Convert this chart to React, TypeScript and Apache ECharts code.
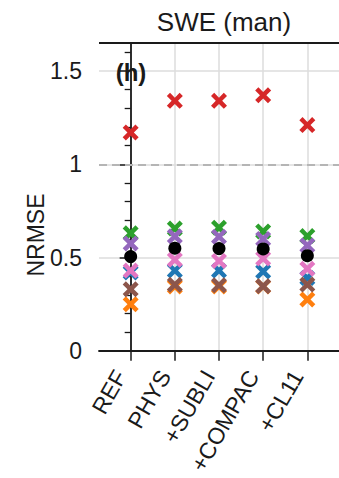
import React, { useEffect, useRef } from "react";
import * as echarts from "echarts";

const categories = ["REF", "PHYS", "+SUBLI", "+COMPAC", "+CL11"];
const xPositions = [0, 1, 2, 3, 4];
const yTicks = [0, 0.5, 1, 1.5];

const blueVals = [0.42, 0.43, 0.43, 0.425, 0.39];
const orangeVals = [0.25, 0.345, 0.345, 0.345, 0.275];
const greenVals = [0.63, 0.656, 0.66, 0.64, 0.615];
const redVals = [1.17, 1.34, 1.34, 1.37, 1.21];
const purpleVals = [0.575, 0.614, 0.612, 0.6, 0.565];
const brownVals = [0.33, 0.354, 0.352, 0.346, 0.355];
const pinkVals = [0.43, 0.488, 0.482, 0.495, 0.44];
const meanVals = [0.505, 0.55, 0.548, 0.546, 0.51];

const refLine = 1;

const X_PATH =
  "path://M0,2L2,0L5,3L8,0L10,2L7,5L10,8L8,10L5,7L2,10L0,8L3,5Z";

const FONT = "Liberation Sans, Arial, Helvetica, sans-serif";

export default function App() {
  const ref = useRef<HTMLDivElement>(null);

  useEffect(() => {
    if (!ref.current) return;
    const chart = echarts.init(ref.current, null, { renderer: "svg" });

    const crossSeries = (name: string, vals: number[], color: string) => ({
      name,
      type: "scatter",
      symbol: X_PATH,
      symbolSize: 16,
      itemStyle: { color, opacity: 1 },
      data: vals.map((v, i) => [xPositions[i], v]),
      z: 3,
      silent: true,
    });

    chart.setOption({
      animation: false,
      backgroundColor: "#ffffff",
      grid: { left: 99, top: 43, width: 251, height: 311, containLabel: false, show: false },
      xAxis: {
        type: "value",
        min: -0.717,
        max: 4.717,
        axisLine: { show: true, lineStyle: { color: "#1a1a1a", width: 1.8 } },
        axisTick: {
          show: true,
          customValues: xPositions,
          length: 10,
          lineStyle: { color: "#1a1a1a", width: 1.5 },
        },
        axisLabel: {
          show: true,
          customValues: xPositions,
          rotate: 60,
          margin: 27,
          align: "right",
          verticalAlign: "bottom",
          fontSize: 23,
          fontFamily: FONT,
          color: "#1a1a1a",
          formatter: (v: number) => categories[Math.round(v)] ?? "",
        },
        splitLine: { show: true, lineStyle: { color: "#dcdcdc", width: 1.5 } },
      },
      yAxis: {
        type: "value",
        min: 0,
        max: 1.65,
        interval: 0.5,
        axisLine: { show: true, lineStyle: { color: "#1a1a1a", width: 1.8 } },
        axisTick: {
          show: true,
          customValues: yTicks,
          length: 11,
          lineStyle: { color: "#1a1a1a", width: 1.5 },
        },
        minorTick: {
          show: true,
          splitNumber: 5,
          length: 6,
          lineStyle: { color: "#1a1a1a", width: 1.3 },
        },
        axisLabel: {
          show: true,
          customValues: yTicks,
          margin: 17,
          fontSize: 23,
          fontFamily: FONT,
          color: "#1a1a1a",
          formatter: (v: number) => String(v),
        },
        splitLine: { show: true, lineStyle: { color: "#dcdcdc", width: 1.5 } },
      },
      graphic: [
        {
          type: "line",
          shape: { x1: 99, y1: 43, x2: 350, y2: 43 },
          style: { stroke: "#1a1a1a", lineWidth: 1.8 },
          z: 10,
        },
        {
          type: "text",
          x: 224,
          y: 22,
          style: {
            text: "SWE (man)",
            fontSize: 26,
            fontFamily: FONT,
            fill: "#1a1a1a",
            textAlign: "center",
            textVerticalAlign: "middle",
          },
        },
        {
          type: "text",
          x: 131,
          y: 72,
          z: 10,
          style: {
            text: "(h)",
            fontSize: 24,
            fontWeight: "bold",
            fontFamily: FONT,
            fill: "#1a1a1a",
            textAlign: "center",
            textVerticalAlign: "middle",
          },
        },
        {
          type: "text",
          x: 36,
          y: 235,
          rotation: Math.PI / 2,
          style: {
            text: "NRMSE",
            fontSize: 23,
            fontFamily: FONT,
            fill: "#1a1a1a",
            textAlign: "center",
            textVerticalAlign: "middle",
          },
        },
      ],
      series: [
        {
          type: "scatter",
          data: [[0, -1]],
          symbolSize: 0,
          silent: true,
          z: 1,
          markLine: {
            silent: true,
            symbol: "none",
            label: { show: false },
            lineStyle: { color: "#b5b5b5", width: 2, type: [8, 5] },
            data: [{ yAxis: refLine }],
          },
        },
        crossSeries("blue", blueVals, "#1f77b4"),
        crossSeries("orange", orangeVals, "#ff7f0e"),
        crossSeries("green", greenVals, "#2ca02c"),
        crossSeries("red", redVals, "#d62728"),
        crossSeries("purple", purpleVals, "#9467bd"),
        crossSeries("brown", brownVals, "#8c564b"),
        crossSeries("pink", pinkVals, "#e377c2"),
        {
          name: "mean",
          type: "scatter",
          symbol: "circle",
          symbolSize: 13,
          itemStyle: { color: "#000000", opacity: 1 },
          data: meanVals.map((v, i) => [xPositions[i], v]),
          z: 4,
          silent: true,
        },
      ],
    });

    return () => chart.dispose();
  }, []);

  return (
    <div
      ref={ref}
      style={{ position: "absolute", left: 0, top: 0, width: 339, height: 478, background: "#fff" }}
    />
  );
}
